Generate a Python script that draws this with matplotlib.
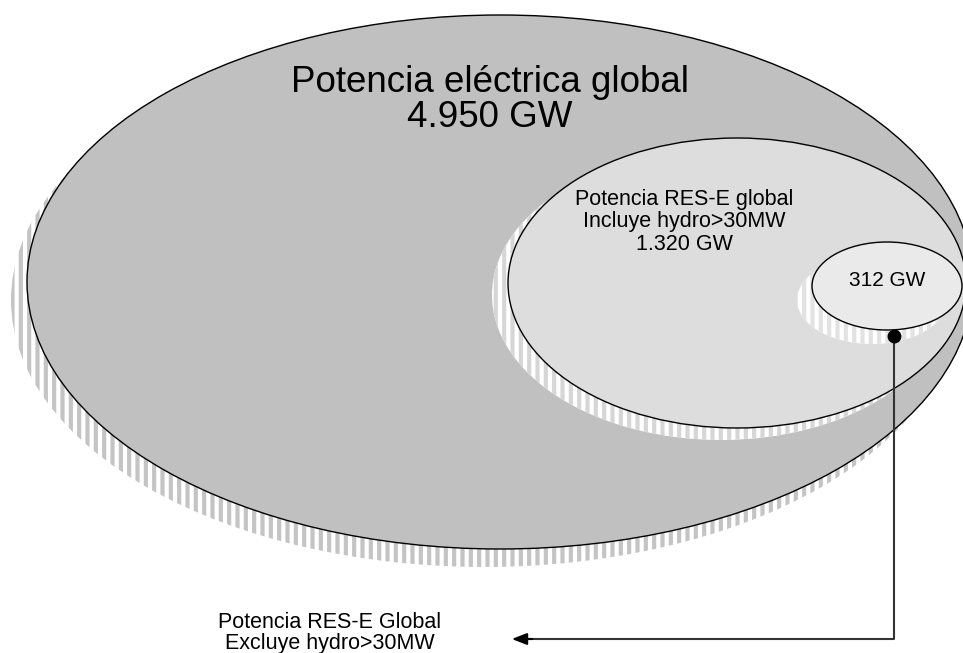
import matplotlib.pyplot as plt
from matplotlib.patches import Ellipse

plt.rcParams["font.family"] = ["Liberation Sans", "DejaVu Sans"]
plt.rcParams["hatch.linewidth"] = 3.0

# Nested sets: global installed power, RES-E incl. large hydro, RES-E excl. large hydro
labels = [
    "Potencia eléctrica global\n4.950 GW",
    "Potencia RES-E global\nIncluye hydro>30MW\n1.320 GW",
    "312 GW",
]
callout_label = "Potencia RES-E Global\nExcluye hydro>30MW"

# ellipse geometry in pixel coords (centre x, centre y, width, height)
centres = [(500, 282), (737, 283), (887, 286)]
sizes = [(946, 534), (458, 290), (150, 88)]
fills = ["#c0c0c0", "#dddddd", "#eaeaea"]
shadow_hatch = ["#c4c4c4", "#d6d6d6", "#e2e2e2"]
shadow_offset = [(-16, 18), (-16, 12), (-15, 14)]
text_pos = [(490, 100), (684, 222), (887, 281)]
text_size = [26.5, 15.5, 15]
text_spacing = [1.0, 1.1, 1.0]

fig = plt.figure(figsize=(9.63, 6.53), dpi=100)
ax = fig.add_axes([0, 0, 1, 1])
ax.set_xlim(0, 963)
ax.set_ylim(653, 0)
ax.axis("off")

for i in range(3):
    cx, cy = centres[i]
    w, h = sizes[i]
    dx, dy = shadow_offset[i]
    shadow = Ellipse((cx + dx, cy + dy), w, h, facecolor="white",
                     edgecolor=shadow_hatch[i], hatch="||", linewidth=0, zorder=2 * i + 1)
    ax.add_patch(shadow)
    body = Ellipse((cx, cy), w, h, facecolor=fills[i], edgecolor="black",
                   linewidth=1.0, zorder=2 * i + 2)
    ax.add_patch(body)
    ax.text(text_pos[i][0], text_pos[i][1], labels[i], ha="center", va="center",
            fontsize=text_size[i], linespacing=text_spacing[i], zorder=10)

# callout from the inner set down to its label
dot_x, dot_y = 894, 336
arrow_y = 639
ax.plot([dot_x, dot_x, 530], [dot_y, arrow_y, arrow_y], color="#333333", lw=1.5, zorder=11)
ax.annotate("", xy=(509, arrow_y), xytext=(535, arrow_y),
            arrowprops=dict(arrowstyle="-|>,head_length=0.9,head_width=0.35",
                            color="black", lw=1.5), zorder=12)
ax.plot(dot_x, dot_y, "o", color="black", markersize=9, zorder=12)
ax.text(330, 633, callout_label, ha="center", va="center", fontsize=15.5,
        linespacing=1.05, zorder=10)

fig.savefig("out.png", dpi=100)
